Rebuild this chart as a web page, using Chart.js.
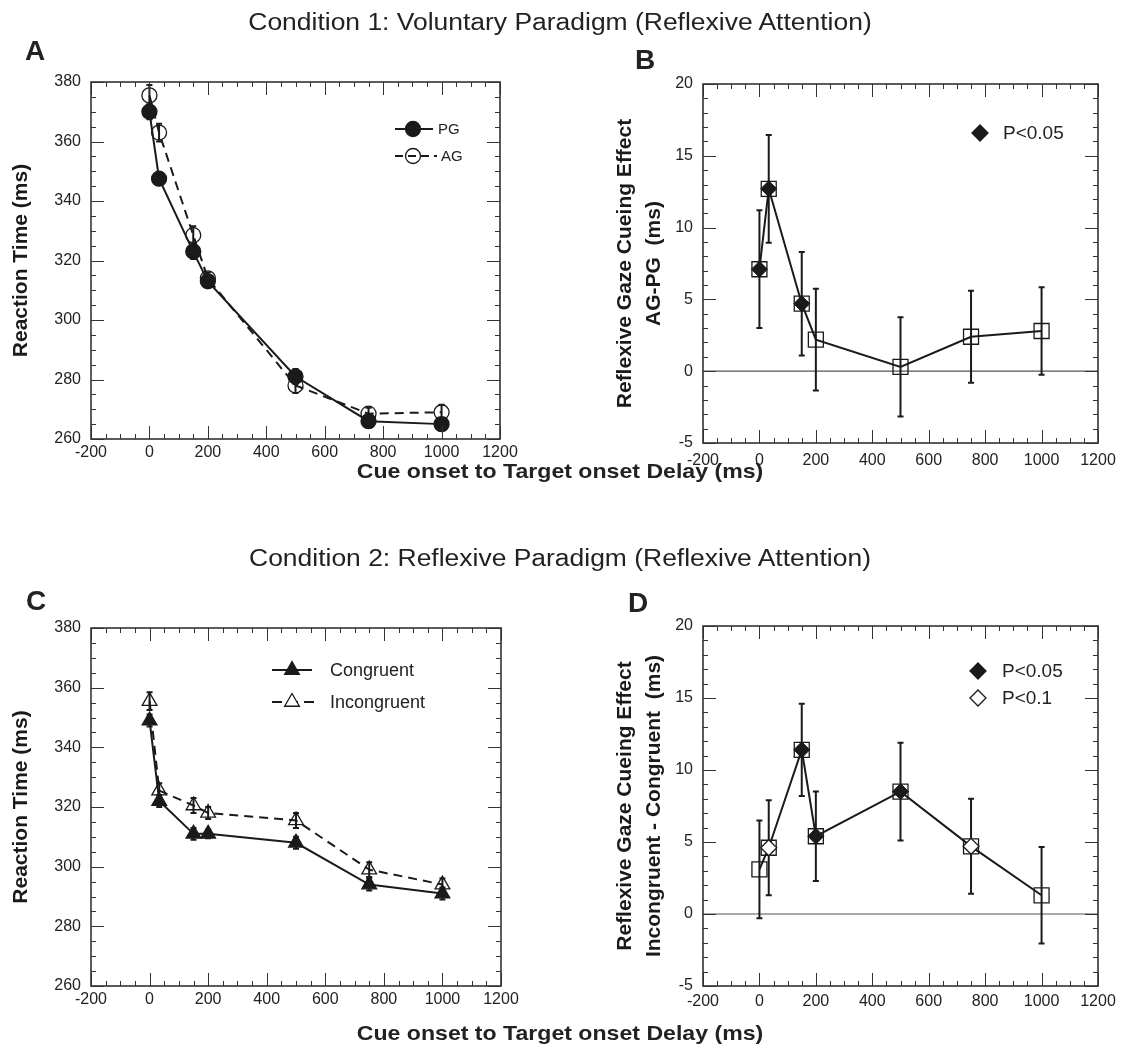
<!DOCTYPE html>
<html>
<head>
<meta charset="utf-8">
<script src="https://cdn.jsdelivr.net/npm/chart.js@4.4.0/dist/chart.umd.min.js"></script>
<style>
  body { margin: 0; background: #fff; }
  #page { position: relative; width: 1137px; height: 1050px; overflow: hidden;
          font-family: "Liberation Sans", Arial, sans-serif; color: #222; }
  #page canvas { position: absolute; left: 0; top: 0; }
  .txt { position: absolute; white-space: nowrap; transform: translate(-50%, -50%); }
  .cond { font-size: 23px; transform: translate(-50%, -50%) scaleX(1.15); }
  .letter { font-size: 28px; font-weight: bold; }
  .xt { font-size: 21px; font-weight: bold; transform: translate(-50%, -50%) scaleX(1.1); }
</style>
</head>
<body>
<div id="page">
  <canvas id="cA" width="1137" height="1050"></canvas>
  <canvas id="cB" width="1137" height="1050"></canvas>
  <canvas id="cC" width="1137" height="1050"></canvas>
  <canvas id="cD" width="1137" height="1050"></canvas>

  <div class="txt cond" style="left:560px;top:22px">Condition 1: Voluntary Paradigm (Reflexive Attention)</div>
  <div class="txt letter" style="left:35px;top:51px">A</div>
  <div class="txt letter" style="left:645px;top:60px">B</div>
  <div class="txt xt" style="left:560px;top:471px">Cue onset to Target onset Delay (ms)</div>

  <div class="txt cond" style="left:560px;top:558px">Condition 2: Reflexive Paradigm (Reflexive Attention)</div>
  <div class="txt letter" style="left:36px;top:601px">C</div>
  <div class="txt letter" style="left:638px;top:603px">D</div>
  <div class="txt xt" style="left:560px;top:1033px">Cue onset to Target onset Delay (ms)</div>
</div>

<script>
// cue-target delays (ms)
const delays = [0, 33, 150, 200, 500, 750, 1000];

// tick labels
const xTickLabels = [-200, 0, 200, 400, 600, 800, 1000, 1200];
const rtTickLabels = [260, 280, 300, 320, 340, 360, 380];
const effTickLabels = [-5, 0, 5, 10, 15, 20];

// A: voluntary paradigm, reaction times
const rtPG = [370, 347.5, 323, 313, 281, 266, 265];
const rtPGErr = [2.5, 1.5, 2.5, 2, 2.5, 1.5, 1.5];
const rtAG = [375.5, 363, 328.5, 314, 278, 268.5, 269];
const rtAGErr = [3.5, 3, 3, 2, 2.5, 2, 2.5];

// B: cueing effect AG-PG
const effB = [7.1, 12.7, 4.7, 2.2, 0.3, 2.4, 2.8];
const effBErr = [4.1, 3.75, 3.6, 3.55, 3.45, 3.2, 3.05];
const sigB05 = [1, 1, 1, 0, 0, 0, 0];

// C: reflexive paradigm, reaction times
const rtCon = [349, 322, 311, 311, 308, 294, 291];
const rtConErr = [2, 2, 2, 1.5, 2, 2, 2];
const rtInc = [355.5, 325.5, 320.5, 318, 315.5, 299, 294];
const rtIncErr = [3, 2.5, 2.5, 2, 2.5, 2.5, 2];

// D: cueing effect incongruent - congruent
const effD = [3.1, 4.6, 11.4, 5.4, 8.5, 4.7, 1.3];
const effDErr = [3.4, 3.3, 3.2, 3.1, 3.4, 3.3, 3.35];
const sigD05 = [0, 0, 1, 1, 1, 0, 0];
const sigD10 = [0, 1, 0, 0, 0, 1, 0];

Chart.defaults.font.family = '"Liberation Sans", Arial, sans-serif';
Chart.defaults.color = '#222';

const INK = '#1a1a1a';
const pts = (ys) => delays.map((d, i) => ({ x: d, y: ys[i] }));
const ptsIf = (ys, flags) => pts(ys).filter((p, i) => flags[i]);

// marker drawing for the hand made legends (same geometry as chart.js)
function marker(ctx, style, x, y, r, fill) {
  ctx.beginPath();
  if (style === 'circle') {
    ctx.arc(x, y, r, 0, Math.PI * 2);
  } else if (style === 'triangle') {
    ctx.moveTo(x, y - r);
    ctx.lineTo(x + Math.sin(Math.PI * 2 / 3) * r, y + r / 2);
    ctx.lineTo(x - Math.sin(Math.PI * 2 / 3) * r, y + r / 2);
  } else if (style === 'rectRot') {
    ctx.moveTo(x - r, y); ctx.lineTo(x, y - r); ctx.lineTo(x + r, y); ctx.lineTo(x, y + r);
  }
  ctx.closePath();
  if (fill) { ctx.fillStyle = fill; ctx.fill(); }
  ctx.strokeStyle = INK;
  ctx.lineWidth = 1.3;
  ctx.stroke();
}

const errBars = {
  id: 'errBars',
  beforeDatasetsDraw(chart, args, opts) {
    const { ctx, chartArea: a, scales: { x, y } } = chart;
    ctx.save();
    if (opts.zero) {
      const py = y.getPixelForValue(0);
      ctx.strokeStyle = '#555';
      ctx.lineWidth = 1.2;
      ctx.beginPath(); ctx.moveTo(a.left, py); ctx.lineTo(a.right, py); ctx.stroke();
    }
    ctx.strokeStyle = INK;
    ctx.lineWidth = 2;
    chart.data.datasets.forEach(ds => {
      if (!ds.errs) return;
      ds.data.forEach((p, i) => {
        const px = x.getPixelForValue(p.x);
        const top = y.getPixelForValue(p.y + ds.errs[i]);
        const bot = y.getPixelForValue(p.y - ds.errs[i]);
        ctx.beginPath();
        ctx.moveTo(px, top); ctx.lineTo(px, bot);
        ctx.moveTo(px - 3, top); ctx.lineTo(px + 3, top);
        ctx.moveTo(px - 3, bot); ctx.lineTo(px + 3, bot);
        ctx.stroke();
      });
    });
    ctx.restore();
  }
};

const frame = {
  id: 'frame',
  afterDraw(chart, args, opts) {
    const { ctx, chartArea: a, scales: { x, y } } = chart;
    ctx.save();
    ctx.strokeStyle = '#333';
    ctx.lineWidth = 1;
    ctx.beginPath();
    for (let v = x.min; v <= x.max + 1e-6; v += opts.xMinor) {
      const px = Math.round(x.getPixelForValue(v)) + 0.5;
      const len = Math.abs(v % opts.xMajor) < 1e-6 ? 13 : 5;
      ctx.moveTo(px, a.bottom); ctx.lineTo(px, a.bottom - len);
      ctx.moveTo(px, a.top); ctx.lineTo(px, a.top + len);
    }
    for (let v = y.min; v <= y.max + 1e-6; v += opts.yMinor) {
      const py = Math.round(y.getPixelForValue(v)) + 0.5;
      const len = Math.abs(v % opts.yMajor) < 1e-6 ? 13 : 5;
      ctx.moveTo(a.left, py); ctx.lineTo(a.left + len, py);
      ctx.moveTo(a.right, py); ctx.lineTo(a.right - len, py);
    }
    ctx.stroke();
    ctx.lineWidth = 1.6;
    ctx.strokeRect(a.left, a.top, a.right - a.left, a.bottom - a.top);

    // legend
    (opts.legend || []).forEach(it => {
      if (it.x1 !== undefined) {
        ctx.strokeStyle = INK;
        ctx.lineWidth = 2;
        ctx.setLineDash(it.dash || []);
        ctx.beginPath(); ctx.moveTo(it.x1, it.y); ctx.lineTo(it.x2, it.y); ctx.stroke();
        ctx.setLineDash([]);
      }
      marker(ctx, it.style, it.mx, it.y, it.r, it.fill);
      ctx.fillStyle = '#222';
      ctx.font = it.font + ' "Liberation Sans", Arial, sans-serif';
      ctx.textAlign = 'left';
      ctx.textBaseline = 'middle';
      ctx.fillText(it.text, it.tx, it.y + 1);
    });
    ctx.restore();
  }
};

function panel(id, p) {
  const yLabels = p.yTicks;
  new Chart(document.getElementById(id), {
    type: 'scatter',
    data: { datasets: p.datasets },
    options: {
      responsive: false,
      animation: false,
      devicePixelRatio: 1,
      layout: {
        padding: { left: p.base, top: p.plot.t, right: 1137 - p.plot.r, bottom: 1050 - p.plot.b - 30 }
      },
      scales: {
        x: {
          type: 'linear',
          min: xTickLabels[0],
          max: xTickLabels[xTickLabels.length - 1],
          grid: { display: false, drawTicks: false },
          border: { display: false },
          afterFit: s => { s.height = 30; },
          ticks: {
            stepSize: xTickLabels[1] - xTickLabels[0],
            font: { size: 16 },
            padding: p.xPad,
            maxRotation: 0,
            autoSkip: false,
            callback: v => String(v)
          }
        },
        y: {
          type: 'linear',
          min: yLabels[0],
          max: yLabels[yLabels.length - 1],
          grid: { display: false, drawTicks: false },
          border: { display: false },
          afterFit: s => { s.width = p.plot.l - p.base; },
          ticks: {
            stepSize: yLabels[1] - yLabels[0],
            font: { size: 16 },
            padding: 10,
            callback: v => String(v)
          },
          title: {
            display: true,
            text: p.yTitle,
            font: { size: 21, weight: 'bold', lineHeight: p.titleLH },
            color: '#1a1a1a',
            padding: { top: p.titlePad, bottom: 0 }
          }
        }
      },
      plugins: {
        legend: { display: false },
        tooltip: { enabled: false },
        errBars: { zero: p.zero },
        frame: {
          xMinor: 50, xMajor: 200,
          yMinor: p.yMinor, yMajor: yLabels[1] - yLabels[0],
          legend: p.legend
        }
      }
    },
    plugins: [errBars, frame]
  });
}

const lineStyle = { showLine: true, borderColor: INK, borderWidth: 2, pointBorderColor: INK, pointBorderWidth: 1.3 };
const clear = 'rgba(255,255,255,0)';

// A
panel('cA', {
  base: 0, plot: { l: 91, t: 82, r: 500, b: 439 }, xPad: 4,
  yTicks: rtTickLabels, yMinor: 5,
  yTitle: 'Reaction Time (ms)', titleLH: 1.2, titlePad: 9,
  datasets: [
    Object.assign({ label: 'PG', data: pts(rtPG), errs: rtPGErr, pointStyle: 'circle',
      pointRadius: 7.5, pointBackgroundColor: INK }, lineStyle),
    Object.assign({ label: 'AG', data: pts(rtAG), errs: rtAGErr, pointStyle: 'circle',
      pointRadius: 7.5, pointBackgroundColor: clear, borderDash: [9, 6] }, lineStyle)
  ],
  legend: [
    { x1: 395, x2: 433, y: 129, style: 'circle', mx: 413, r: 7.5, fill: INK, text: 'PG', tx: 438, font: '15px' },
    { x1: 395, x2: 437, y: 156, dash: [8, 5], style: 'circle', mx: 413, r: 7.5, fill: null, text: 'AG', tx: 441, font: '15px' }
  ]
});

// B
panel('cB', {
  base: 580, plot: { l: 703, t: 84, r: 1098, b: 443 }, xPad: 8,
  yTicks: effTickLabels, yMinor: 1, zero: true,
  yTitle: ['Reflexive Gaze Cueing Effect', 'AG-PG  (ms)'], titleLH: 1.38, titlePad: 31,
  datasets: [
    { label: 'P<0.05', data: ptsIf(effB, sigB05), pointStyle: 'rectRot', pointRadius: 8,
      pointBackgroundColor: INK, pointBorderColor: INK, showLine: false },
    Object.assign({ label: 'AG-PG', data: pts(effB), errs: effBErr, pointStyle: 'rect',
      pointRadius: 10.6, pointBackgroundColor: clear }, lineStyle)
  ],
  legend: [
    { y: 133, style: 'rectRot', mx: 980, r: 8, fill: INK, text: 'P<0.05', tx: 1003, font: '19px' }
  ]
});

// C
panel('cC', {
  base: 0, plot: { l: 91, t: 628, r: 501, b: 986 }, xPad: 4,
  yTicks: rtTickLabels, yMinor: 5,
  yTitle: 'Reaction Time (ms)', titleLH: 1.2, titlePad: 9,
  datasets: [
    Object.assign({ label: 'Congruent', data: pts(rtCon), errs: rtConErr, pointStyle: 'triangle',
      pointRadius: 8.5, pointBackgroundColor: INK }, lineStyle),
    Object.assign({ label: 'Incongruent', data: pts(rtInc), errs: rtIncErr, pointStyle: 'triangle',
      pointRadius: 8.5, pointBackgroundColor: clear, borderDash: [9, 6] }, lineStyle)
  ],
  legend: [
    { x1: 272, x2: 312, y: 670, style: 'triangle', mx: 292, r: 8.5, fill: INK, text: 'Congruent', tx: 330, font: '18px' },
    { x1: 272, x2: 314, y: 702, dash: [10, 6], style: 'triangle', mx: 292, r: 8.5, fill: '#fff', text: 'Incongruent', tx: 330, font: '18px' }
  ]
});

// D
panel('cD', {
  base: 580, plot: { l: 703, t: 626, r: 1098, b: 986 }, xPad: 6,
  yTicks: effTickLabels, yMinor: 1, zero: true,
  yTitle: ['Reflexive Gaze Cueing Effect', 'Incongruent - Congruent  (ms)'], titleLH: 1.38, titlePad: 31,
  datasets: [
    { label: 'P<0.05', data: ptsIf(effD, sigD05), pointStyle: 'rectRot', pointRadius: 8,
      pointBackgroundColor: INK, pointBorderColor: INK, showLine: false },
    { label: 'P<0.1', data: ptsIf(effD, sigD10), pointStyle: 'rectRot', pointRadius: 8,
      pointBackgroundColor: '#fff', pointBorderColor: INK, pointBorderWidth: 1.3, showLine: false },
    Object.assign({ label: 'Incongruent-Congruent', data: pts(effD), errs: effDErr, pointStyle: 'rect',
      pointRadius: 10.6, pointBackgroundColor: clear }, lineStyle)
  ],
  legend: [
    { y: 671, style: 'rectRot', mx: 978, r: 8, fill: INK, text: 'P<0.05', tx: 1002, font: '19px' },
    { y: 698, style: 'rectRot', mx: 978, r: 8, fill: '#fff', text: 'P<0.1', tx: 1002, font: '19px' }
  ]
});
</script>
</body>
</html>
